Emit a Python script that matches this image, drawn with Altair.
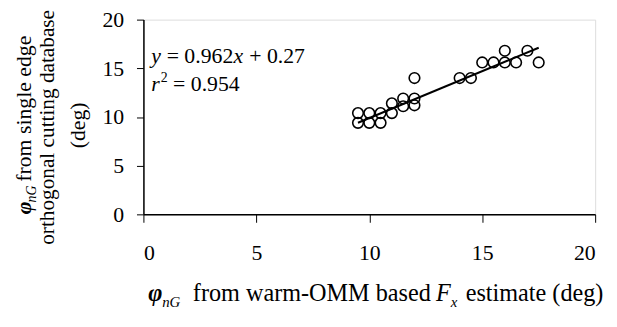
import altair as alt
import pandas as pd

FONT = "Liberation Serif, Times New Roman, serif"

# Scatter data
x_vals = [9.5, 9.5, 10, 10, 10.5, 10.5, 11, 11, 11.5, 11.5, 12, 12, 12, 14, 14.5, 15, 15.5, 16, 16, 16.5, 17, 17.5]
y_vals = [9.4, 10.4, 9.4, 10.4, 9.4, 10.4, 10.4, 11.4, 11.1, 11.9, 11.2, 11.9, 14.0, 14.0, 14.0, 15.6, 15.6, 16.8, 15.6, 15.6, 16.8, 15.6]

# Regression line y = 0.962x + 0.27, end points
fit_x = [9.5, 17.5]
fit_y = [9.41, 17.11]

tick_vals = [0, 5, 10, 15, 20]

pts = pd.DataFrame({"x": x_vals, "y": y_vals})
fit = pd.DataFrame({"x": fit_x, "y": fit_y})
one = pd.DataFrame({"a": [0]})

xs = alt.Scale(domain=[0, 20], nice=False, zero=False)
ys = alt.Scale(domain=[0, 20], nice=False, zero=False)

xaxis = alt.Axis(values=tick_vals, format="d", title=None, grid=False,
                 labelFont=FONT, labelFontSize=22, labelColor="black",
                 tickSize=8, tickColor="black", domainColor="black",
                 domainWidth=1.5, labelPadding=21)
yaxis = alt.Axis(values=tick_vals, format="d", title=None, grid=False,
                 labelFont=FONT, labelFontSize=22, labelColor="black",
                 tickSize=7, tickColor="black", domainColor="black",
                 domainWidth=1.5, labelPadding=13)

points = alt.Chart(pts).mark_point(shape="circle", filled=False, color="black",
                                   strokeWidth=1.6, size=115, opacity=1).encode(
    x=alt.X("x:Q", scale=xs, axis=xaxis),
    y=alt.Y("y:Q", scale=ys, axis=yaxis),
)

line = alt.Chart(fit).mark_line(color="black", strokeWidth=2).encode(
    x=alt.X("x:Q", scale=xs),
    y=alt.Y("y:Q", scale=ys),
)


def txt(s, x, y, size=22, style="normal", weight="normal", angle=0, align="left"):
    return alt.Chart(one).mark_text(
        text=s, font=FONT, fontSize=size, fontStyle=style, fontWeight=weight,
        angle=angle, align=align, baseline="alphabetic", color="black"
    ).encode(x=alt.value(x), y=alt.value(y))


texts = [
    # equation
    txt("y", 8, 44, style="italic"),
    txt("= 0.962", 23.5, 44),
    txt("x", 91, 44, style="italic"),
    txt("+ 0.27", 107, 44),
    txt("r", 8, 72, style="italic"),
    txt("2", 17.5, 63, size=14),
    txt("= 0.954", 30, 72),
    # x title
    txt("\u03c6", 5, 285, size=24.5, style="italic", weight="bold"),
    txt("nG", 19, 291, size=15, style="italic"),
    txt("from warm-OMM based", 50, 285, size=24.5),
    txt("F", 296, 285, size=24.5, style="italic"),
    txt("x", 311, 291, size=15, style="italic"),
    txt("estimate (deg)", 326, 285, size=24.5),
    # y title (rotated)
    txt("\u03c6", -114, 197, style="italic", weight="bold", angle=270),
    txt("nG", -109, 185, size=14, style="italic", angle=270),
    txt("from single edge", -114, 164, angle=270),
    txt("orthogonal cutting database", -90, 109, size=21.5, angle=270, align="center"),
    txt("(deg)", -59, 107, angle=270, align="center"),
]

chart = alt.layer(points, line, *texts).properties(
    width=457, height=197,
    autosize=alt.AutoSizeParams(type="none"),
    padding={"left": 137, "top": 10, "right": 14, "bottom": 95},
).configure_view(stroke="#555", strokeWidth=2).configure(background="white")

chart.save("out.html", embed_options={"renderer": "svg", "actions": False})
